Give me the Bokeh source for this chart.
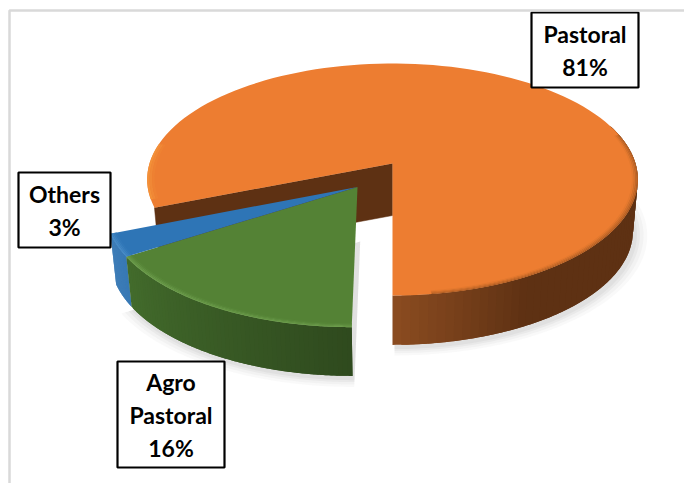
import numpy as np
from bokeh.plotting import figure
from bokeh.models import Range1d
from bokeh.core.properties import value
from bokeh.embed import file_html
from bokeh.resources import INLINE

categories = ["Pastoral", "Agro Pastoral", "Others"]
shares = [81, 16, 3]
top_colors = ["#ED7D31", "#548235", "#2E75B6"]
rim_colors = ["#A65A22", "#6FA04F", "#4A8DC8"]
wall_a = ["#8A4B20", "#2F4A1E", "#2567A6"]
wall_b = ["#5E3113", "#436C2C", "#2B70B0"]
inner_wall = "#5E3113"
label_lines = [["Pastoral", "81%"], ["Agro", "Pastoral", "16%"], ["Others", "3%"]]

W, H = 684, 483
p = figure(width=W, height=H, output_backend="svg", toolbar_location=None,
           x_range=Range1d(0, W), y_range=Range1d(H, 0),
           min_border=0, outline_line_color=None, background_fill_color="white")
p.axis.visible = False
p.grid.visible = False

CX, CY = 392.0, 163.0
A, B, K = 243.0, 113.8, 0.138
DEPTH, SHRINK = 52.0, 0.98


def project(u, v, lower=False):
    w = 1 - K * v
    x = A * u / w
    y = B * v / w
    if lower:
        return CX + x * SHRINK, CY + y * SHRINK + DEPTH
    return CX + x, CY + y


def disc(a0, a1, r=1.0, u0=0.0, v0=0.0, lower=False, n=120):
    t = np.radians(np.linspace(a0, a1, n))
    return project(u0 + r * np.sin(t), v0 + r * np.cos(t), lower)


def slice_poly(a0, a1, r, u0, v0):
    x, y = disc(a0, a1, r, u0, v0)
    ax, ay = project(u0, v0)
    return np.r_[ax, x], np.r_[ay, y]


def mix(c1, c2, t):
    a = [int(c1[i:i + 2], 16) for i in (1, 3, 5)]
    b = [int(c2[i:i + 2], 16) for i in (1, 3, 5)]
    return "#%02x%02x%02x" % tuple(round(a[i] + (b[i] - a[i]) * t) for i in range(3))


orange_span = shares[0] * 3.6
green_span = shares[1] * 3.6
blue_span = shares[2] * 3.6
OFF = (-0.14, 0.20)
slices = [
    (0, orange_span, 0.0, 0.0, 0),
    (-green_span, 0, OFF[0], OFF[1], 1),
    (-green_span - blue_span, -green_span, OFF[0], OFF[1], 2),
]

# soft shadows
for grow, alpha in ((1.05, 0.05), (1.035, 0.06), (1.02, 0.07), (1.008, 0.08)):
    for a0, a1, u0, v0, _ in slices[:2]:
        a1c = min(a1, 110)
        x0, y0 = disc(a0, a1c, grow, u0, v0, lower=True)
        ax, ay = project(u0, v0, lower=True)
        p.patch(np.r_[ax, x0] + 2, np.r_[ay, y0] + 3, fill_color="#808080", fill_alpha=alpha, line_color=None)

# inner wall along the cut of the large slice
sa, ca = np.sin(np.radians(orange_span)), np.cos(np.radians(orange_span))
ox0, oy0 = project(sa, ca)
lx0, ly0 = project(sa, ca, lower=True)
p.patch([CX, ox0, lx0, CX], [CY, oy0, ly0, CY + DEPTH], fill_color=inner_wall, line_color=inner_wall, line_width=0.5)


def walls(a0, a1, u0, v0, idx, span, steps=60):
    edges = np.linspace(a0, a1, steps + 1)
    over = (a1 - a0) / steps
    for e0, e1 in zip(edges[:-1], edges[1:]):
        e2 = min(e1 + over, a1)
        x1, y1 = disc(e0, e2, 1.0, u0, v0, n=6)
        x2, y2 = disc(e0, e2, 1.0, u0, v0, lower=True, n=6)
        dist = min(abs(e0), abs(e1))
        c = mix(wall_a[idx], wall_b[idx], min(dist / span, 1.0))
        p.patch(np.r_[x1, x2[::-1]], np.r_[y1, y2[::-1]], fill_color=c, line_color=None)


walls(0, 110, 0.0, 0.0, 0, 28.0)
walls(-green_span - blue_span, -green_span, OFF[0], OFF[1], 2, 60.0)
walls(-green_span, 0, OFF[0], OFF[1], 1, green_span)

# top faces, then bevel strips only along the visible front rim
for a0, a1, u0, v0, idx in slices:
    x, y = slice_poly(a0, a1, 1.0, u0, v0)
    p.patch(x, y, fill_color=top_colors[idx], line_color=None)


def bevel(a0, a1, u0, v0, idx, rim, widths=(0.000, 0.006, 0.012, 0.018, 0.024)):
    for i in range(len(widths) - 1):
        xo, yo = disc(a0, a1, 1.0 - widths[i], u0, v0)
        xi, yi = disc(a0, a1, 1.0 - widths[i + 1], u0, v0)
        c = mix(rim, top_colors[idx], (i + 0.5) / (len(widths) - 1))
        p.patch(np.r_[xo, xi[::-1]], np.r_[yo, yi[::-1]], fill_color=c, line_color=None)


bevel(8, 105, 0, 0, 0, rim_colors[0])
bevel(260, orange_span - 4, 0, 0, 0, "#F4943A", widths=(0.0, 0.01, 0.02, 0.03))
bevel(-green_span, 0, OFF[0], OFF[1], 1, rim_colors[1])
bevel(-green_span - blue_span, -green_span, OFF[0], OFF[1], 2, rim_colors[2])

# labels
boxes = [(531, 638, 12, 87), (117, 224, 361, 467), (18, 110, 172, 247)]
for (x0, x1, y0, y1), lines in zip(boxes, label_lines):
    p.quad(left=[x0], right=[x1], top=[y0], bottom=[y1], fill_color="white", line_color="black", line_width=2.2)
    n = len(lines)
    step = 33
    ys = [(y0 + y1) / 2 + (i - (n - 1) / 2) * step for i in range(n)]
    p.text(x=[(x0 + x1) / 2] * n, y=ys, text=lines, text_align="center", text_baseline="middle",
           text_font=value("Lato"), text_font_style="bold", text_font_size="23px", text_color="black")

# frame
p.line([684, 9, 9], [10, 10, 483], line_color="#D9D9D9", line_width=2.5)

open("out.html", "w").write(file_html(p, INLINE))
